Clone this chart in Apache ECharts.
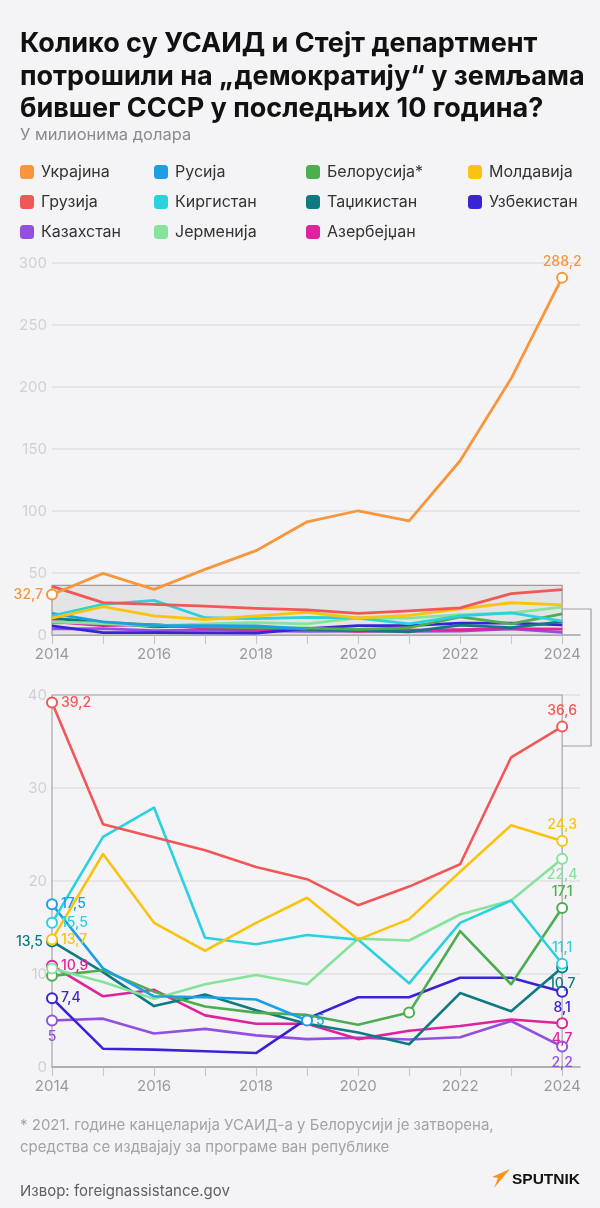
<!DOCTYPE html>
<html><head><meta charset="utf-8">
<script src="https://cdn.jsdelivr.net/npm/echarts@6/dist/echarts.min.js"></script>
<style>html,body{margin:0;padding:0;background:#f4f4f6;}#c{width:600px;height:1208px;}</style>
</head><body><div id="c"></div>
<script>
// ---- data ----
const years = [2014, 2015, 2016, 2017, 2018, 2019, 2020, 2021, 2022, 2023, 2024];
const xLabelYears = [2014, 2016, 2018, 2020, 2022, 2024];
const topTicks = [0, 50, 100, 150, 200, 250, 300];
const bottomTicks = [0, 10, 20, 30, 40];
const ukraine    = [32.7, 49.7, 36.8, 52.9, 68.0, 91.3, 100.2, 92.1, 140.5, 206.8, 288.2];
const russia     = [17.5, 10.6, 7.6, 7.5, 7.25, 5, null, null, null, null, null];
const belarus    = [9.8, 10.4, 8.1, 6.5, 5.85, 5.6, 4.55, 5.85, 14.6, 8.9, 17.1];
const moldova    = [13.7, 22.9, 15.5, 12.5, 15.5, 18.2, 13.7, 15.9, 21.0, 26.0, 24.3];
const georgia    = [39.2, 26.1, 24.7, 23.3, 21.5, 20.2, 17.4, 19.4, 21.8, 33.3, 36.6];
const kyrgyzstan = [15.5, 24.75, 27.9, 13.9, 13.2, 14.2, 13.7, 9.0, 15.5, 17.9, 11.1];
const tajikistan = [13.5, 10.2, 6.55, 7.8, 6.1, 4.65, 3.7, 2.45, 7.95, 6.0, 10.7];
const uzbekistan = [7.4, 1.97, 1.87, 1.7, 1.5, 5.2, 7.5, 7.5, 9.6, 9.6, 8.1];
const kazakhstan = [5, 5.2, 3.6, 4.1, 3.4, 3.0, 3.15, 2.95, 3.2, 4.95, 2.2];
const armenia    = [10.6, 9.15, 7.35, 8.9, 9.9, 8.9, 13.8, 13.6, 16.4, 17.9, 22.4];
const azerbaijan = [10.9, 7.6, 8.3, 5.55, 4.65, 4.65, 3.0, 3.9, 4.4, 5.1, 4.7];
const names = {
  ukr: 'Украјина', rus: 'Русија', bel: 'Белорусија*', mol: 'Молдавија',
  geo: 'Грузија', kyr: 'Киргистан', taj: 'Таџикистан', uzb: 'Узбекистан',
  kaz: 'Казахстан', arm: 'Јерменија', aze: 'Азербејџан'
};
// ---- styles ----
const colors = {
  ukr: '#f7963d', rus: '#1e9fe3', bel: '#4cae4f', mol: '#fbc30f',
  geo: '#f25757', kyr: '#2bd1df', taj: '#0e7a82', uzb: '#3a22d6',
  kaz: '#9150df', arm: '#86e39b', aze: '#e0229e'
};
const FONT = 'Inter, Roboto, "Noto Sans", sans-serif';
const BG = '#f4f4f6';
function fmt(v) { return String(v).replace('.', ','); }

function mkSeries(key, data, grid, marks, width) {
  const color = colors[key];
  return {
    name: names[key], type: 'line', xAxisIndex: grid, yAxisIndex: grid, z: 3,
    symbol: 'none', showSymbol: true, connectNulls: false, silent: true,
    lineStyle: { width: width, color: color, join: 'round' },
    itemStyle: { color: color, borderColor: color, borderWidth: 2 },
    emphasis: { disabled: true },
    animation: false,
    data: data.map((v, i) => {
      const p = [years[i], v];
      if (!(i in marks)) return p;
      const pos = marks[i];
      return {
        value: p, symbol: 'emptyCircle', symbolSize: 10,
        label: pos ? {
          show: true, position: pos, distance: 3,
          formatter: fmt(v), color: color, fontSize: 14, fontWeight: 500, fontFamily: FONT
        } : { show: false }
      };
    })
  };
}

const bottomDefs = [
  ['kaz', kazakhstan, {0: 'bottom', 10: 'bottom'}],
  ['aze', azerbaijan, {0: 'right', 10: 'bottom'}],
  ['uzb', uzbekistan, {0: 'right', 10: 'bottom'}],
  ['taj', tajikistan, {0: 'left', 10: 'bottom'}],
  ['bel', belarus, {0: null, 7: null, 10: 'top'}],
  ['arm', armenia, {0: null, 10: 'bottom'}],
  ['rus', russia, {0: 'right', 5: 'right'}],
  ['kyr', kyrgyzstan, {0: 'right', 10: 'top'}],
  ['mol', moldova, {0: 'right', 10: 'top'}],
  ['geo', georgia, {0: 'right', 10: 'top'}]
];
const topDefs = [
  ['kaz', kazakhstan], ['aze', azerbaijan], ['uzb', uzbekistan], ['taj', tajikistan],
  ['bel', belarus], ['arm', armenia], ['rus', russia], ['kyr', kyrgyzstan],
  ['mol', moldova], ['geo', georgia]
];

const series = [];
series.push({
  type: 'line', xAxisIndex: 0, yAxisIndex: 0, z: 1, silent: true, symbol: 'none',
  data: [[2014, 0]], lineStyle: { width: 0 }, animation: false,
  markArea: {
    silent: true, label: { show: false },
    itemStyle: { color: '#e4e4e7', borderColor: '#9c9c9c', borderWidth: 1.2 },
    data: [[{ coord: [2014, 0] }, { coord: [2024, 40] }]]
  }
});
series.push({
  type: 'line', xAxisIndex: 1, yAxisIndex: 1, z: 1, silent: true, symbol: 'none',
  data: [[2014, 0]], lineStyle: { width: 0 }, animation: false,
  markArea: {
    silent: true, label: { show: false },
    itemStyle: { color: 'rgba(0,0,0,0)', borderColor: '#a6a6a6', borderWidth: 1.2 },
    data: [[{ coord: [2014, 0] }, { coord: [2024, 40] }]]
  }
});
topDefs.forEach(d => series.push(mkSeries(d[0], d[1], 0, {}, 2.8)));
series.push(mkSeries('ukr', ukraine, 0, {0: 'left', 10: 'top'}, 2.8));
bottomDefs.forEach(d => series.push(mkSeries(d[0], d[1], 1, d[2], 2.6)));

function xAxis(grid) {
  return {
    type: 'value', gridIndex: grid, min: 2014, max: 2024.35,
    axisLine: { show: true, lineStyle: { color: '#a8a8ab', width: 1.5 } },
    axisTick: { show: true, customValues: years, length: 9, lineStyle: { color: '#c8c8cc', width: 1.2 } },
    axisLabel: {
      customValues: xLabelYears, color: '#9a9a9d', fontSize: 15, fontFamily: FONT, margin: 12,
      formatter: v => String(v)
    },
    splitLine: { show: false }
  };
}
function yAxis(grid, ticks) {
  return {
    type: 'value', gridIndex: grid, min: ticks[0], max: ticks[ticks.length - 1],
    interval: ticks[1] - ticks[0],
    axisLine: { show: false }, axisTick: { show: false },
    axisLabel: {
      color: v => (v === 0 ? '#a0a0a3' : '#d0d0d5'),
      fontSize: 15, fontFamily: FONT, margin: 5
    },
    splitLine: { show: true, lineStyle: { color: '#e1e1e4', width: 1.5 } }
  };
}

const legendCols = [
  [names.ukr, names.geo, names.kaz],
  [names.rus, names.kyr, names.arm],
  [names.bel, names.taj, names.aze],
  [names.mol, names.uzb]
];
const legendX = [20, 154, 306, 468];

const option = {
  backgroundColor: BG,
  animation: false,
  title: [
    {
      text: 'Колико су УСАИД и Стејт департмент\nпотрошили на „демократију“ у земљама\nбившег СССР у последњих 10 година?',
      left: 20, top: 28, padding: 0,
      textStyle: { fontFamily: FONT, fontWeight: 'bold', fontSize: 27, lineHeight: 32.5, color: '#111' }
    },
    {
      text: 'У милионима долара', left: 20, top: 127, padding: 0,
      textStyle: { fontFamily: FONT, fontWeight: 'normal', fontSize: 16.5, lineHeight: 17, color: '#8a8a8d' }
    },
    {
      text: '* 2021. године канцеларија УСАИД-а у Белорусији је затворена,\nсредства се издвајају за програме ван републике',
      left: 20, top: 1114, padding: 0,
      textStyle: { fontFamily: FONT, fontWeight: 'normal', fontSize: 15, lineHeight: 22, color: '#a3a3a6' }
    },
    {
      text: 'Извор: foreignassistance.gov', left: 20, top: 1183, padding: 0,
      textStyle: { fontFamily: FONT, fontWeight: 'normal', fontSize: 15, lineHeight: 16, color: '#606063' }
    }
  ],
  legend: legendCols.map((col, i) => ({
    orient: 'vertical', left: legendX[i], top: 164, padding: 0,
    itemGap: 14, itemWidth: 14, itemHeight: 14, icon: 'roundRect',
    selectedMode: false, data: col,
    itemStyle: { borderWidth: 0 },
    textStyle: { fontFamily: FONT, fontSize: 16, lineHeight: 14, color: '#333', padding: [0, 0, 0, 2] }
  })),
  grid: [
    { left: 52, right: 20, top: 263, height: 372, containLabel: false },
    { left: 52, right: 20, top: 695, height: 372, containLabel: false }
  ],
  xAxis: [xAxis(0), xAxis(1)],
  yAxis: [yAxis(0, topTicks), yAxis(1, bottomTicks)],
  series: series,
  graphic: [
    {
      type: 'polyline', silent: true, z: 10,
      shape: { points: [[562, 609], [591, 609], [591, 746], [562, 746]] },
      style: { stroke: '#a0a0a0', lineWidth: 1.2, fill: null }
    },
    {
      type: 'polygon', silent: true,
      shape: { points: [[510, 1169], [492, 1177], [498, 1178], [494, 1188]] },
      style: { fill: '#f7931e' }
    },
    {
      type: 'text', left: 512, top: 1172, silent: true,
      style: { text: 'SPUTNIK', font: 'bold 15.5px "Liberation Sans", Arial, sans-serif', fill: '#111' }
    }
  ]
};
const chart = echarts.init(document.getElementById('c'), null, { renderer: 'canvas' });
chart.setOption(option);
</script></body></html>
